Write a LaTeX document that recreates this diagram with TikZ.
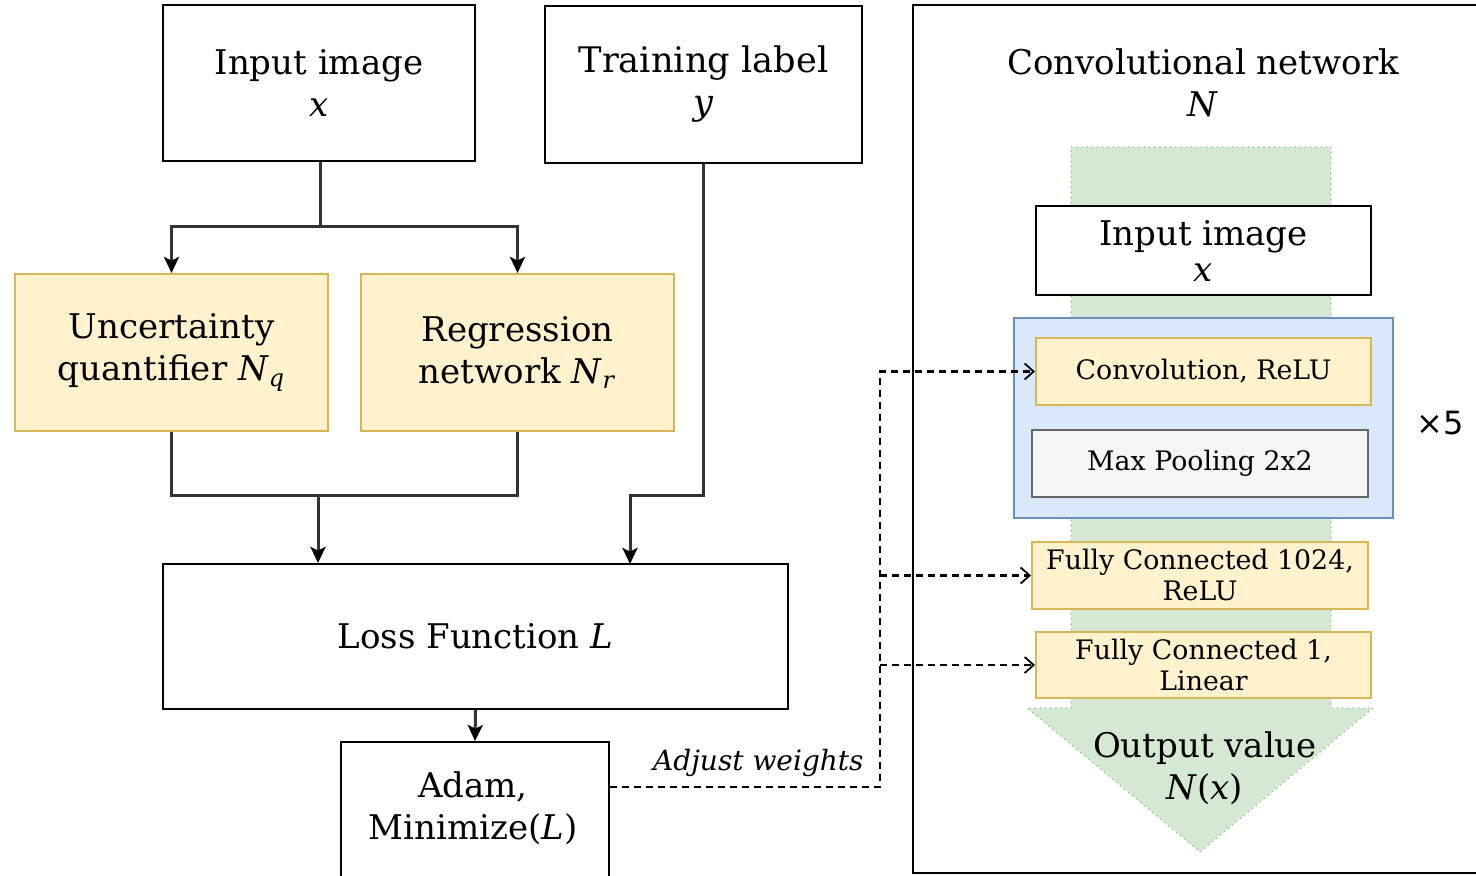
\documentclass[tikz,border=0pt]{standalone}
\usepackage{fontspec}
\setmainfont{DejaVu Serif}
\setsansfont{DejaVu Sans}
\usetikzlibrary{arrows.meta,positioning,calc}
\definecolor{NetYellow}{HTML}{FFF2CC}
\definecolor{NetYellowLine}{HTML}{D6B656}
\definecolor{PoolGray}{HTML}{F5F5F5}
\definecolor{PoolGrayLine}{HTML}{666666}
\definecolor{LoopBlue}{HTML}{DAE8FC}
\definecolor{LoopBlueLine}{HTML}{6C8EBF}
\definecolor{FlowGreen}{HTML}{D5E8D4}
\definecolor{FlowGreenLine}{HTML}{97C08A}
\definecolor{WireGray}{HTML}{333333}
\tikzset{
  wire/.style={WireGray,line width=1.5pt},
  feed/.style={wire,-{Stealth[length=8pt,width=7.5pt,inset=1.8pt,color=black]}},
  update/.style={black,line width=1.1pt,dash pattern=on 3.5pt off 2.5pt,
                 -{Straight Barb[length=4.5pt,width=8pt,line width=0.9pt]}},
  boxsize/.style 2 args={minimum width=#1pt,minimum height=#2pt},
  block/.style={draw=black,line width=1pt,fill=white,align=center,inner sep=0pt,
                font=\fontsize{17}{21}\selectfont},
  blockyellow/.style={block,draw=NetYellowLine,fill=NetYellow},
  layer/.style={blockyellow,font=\fontsize{13.4}{15.5}\selectfont},
  layergray/.style={layer,draw=PoolGrayLine,fill=PoolGray},
  loopbox/.style={draw=LoopBlueLine,line width=0.9pt,fill=LoopBlue},
  flowpath/.style={fill=FlowGreen,draw=FlowGreenLine,line width=0.6pt,dotted},
  caption/.style={align=center,inner sep=0pt,font=\fontsize{17}{21}\selectfont},
}

\begin{document}
\begin{tikzpicture}[x=0.5pt,y=-0.5pt]
  \clip (0,0) rectangle (1476,876);
  \fill[white] (0,0) rectangle (1476,876);

  % --- training loop ---
  \node[block,boxsize={156}{78}] (img) at (319,83) {Input image\\\textit{x}};
  \node[block,boxsize={158.5}{78.5},font=\fontsize{17.6}{21}\selectfont] (lbl) at (703.5,84.5)
    {Training label\\\textit{y}};
  \node[blockyellow,boxsize={156.5}{78.5}] (uq) at (171.5,352.5)
    {Uncertainty\\quantifier \textit{N}\textsubscript{\textit{q}}};
  \node[blockyellow,boxsize={156.5}{78.5}] (reg) at (517.5,352.5)
    {Regression\\network \textit{N}\textsubscript{\textit{r}}};
  \node[block,boxsize={312.5}{72.5}] (loss) at (475.5,636.5) {Loss Function \textit{L}};
  \node[block,boxsize={134}{80}] (adam) at (475,822) {};
  \node[caption] (adamtxt) at (473,808) {Adam,\\Minimize(\textit{L})};

  \coordinate (split) at (320,227);
  \coordinate (merge) at (318,495);
  \draw[wire] (img.south -| split) -- (split);
  \draw[feed] (split) -| (uq.north);
  \draw[feed] (split) -| (reg.north);
  \draw[wire] (uq.south) |- (merge) -| (reg.south);
  \draw[feed] (merge) -- (merge |- loss.north);
  \draw[feed] (lbl.south) |- (630,495) -- (630,564);
  \draw[feed] (loss.south) -- (adam.north);

  % --- convolutional network ---
  \node[draw=black,line width=1pt,minimum width=290pt,minimum height=434pt,
        inner sep=0pt] (net) at (1203,439) {};
  \node[caption] (nettxt) at (1203,83) {Convolutional network\\\textit{N}};
  \draw[flowpath] (1071,147) -- (1331,147) -- (1331,708) -- (1373,708)
    -- (1200,852) -- (1027,708) -- (1071,708) -- cycle;
  \node[block,boxsize={167.5}{44.5},font=\fontsize{17}{20}\selectfont] (netin) at (1203.5,250.5)
    {Input image\\[-2pt]\textit{x}};
  \node[loopbox,minimum width=189.5pt,minimum height=100pt,inner sep=0pt] (rep) at (1203.5,418) {};
  \node[layer,boxsize={167.5}{33.5}] (conv) at (1203.5,371.5) {Convolution, ReLU};
  \node[layergray,boxsize={168}{33.5}] (pool) at (1200,463.5) {Max Pooling 2x2};
  \node[layer,boxsize={168}{33.5}] (fca) at (1200,575.5) {Fully Connected 1024,\\ReLU};
  \node[layer,boxsize={167.5}{33}] (fcb) at (1203.5,665) {Fully Connected 1,\\Linear};
  \node[caption] (out) at (1205,768) {Output value\\\textit{N}(\textit{x})};
  \node[inner sep=0pt,font=\sffamily\fontsize{16}{19}\selectfont] (times) at (1440,423) {×5};

  % --- weight updates ---
  \coordinate (bus) at (880,0);
  \node[inner sep=0pt,anchor=east,font=\itshape\fontsize{14}{17}\selectfont] (adjust) at (864,763)
    {Adjust weights};
  \draw[update] (adam.east |- 0,787) -| (bus |- conv.west) -- (conv.west);
  \draw[update] (bus |- fca.west) -- (fca.west);
  \draw[update] (bus |- fcb.west) -- (fcb.west);
\end{tikzpicture}
\end{document}
